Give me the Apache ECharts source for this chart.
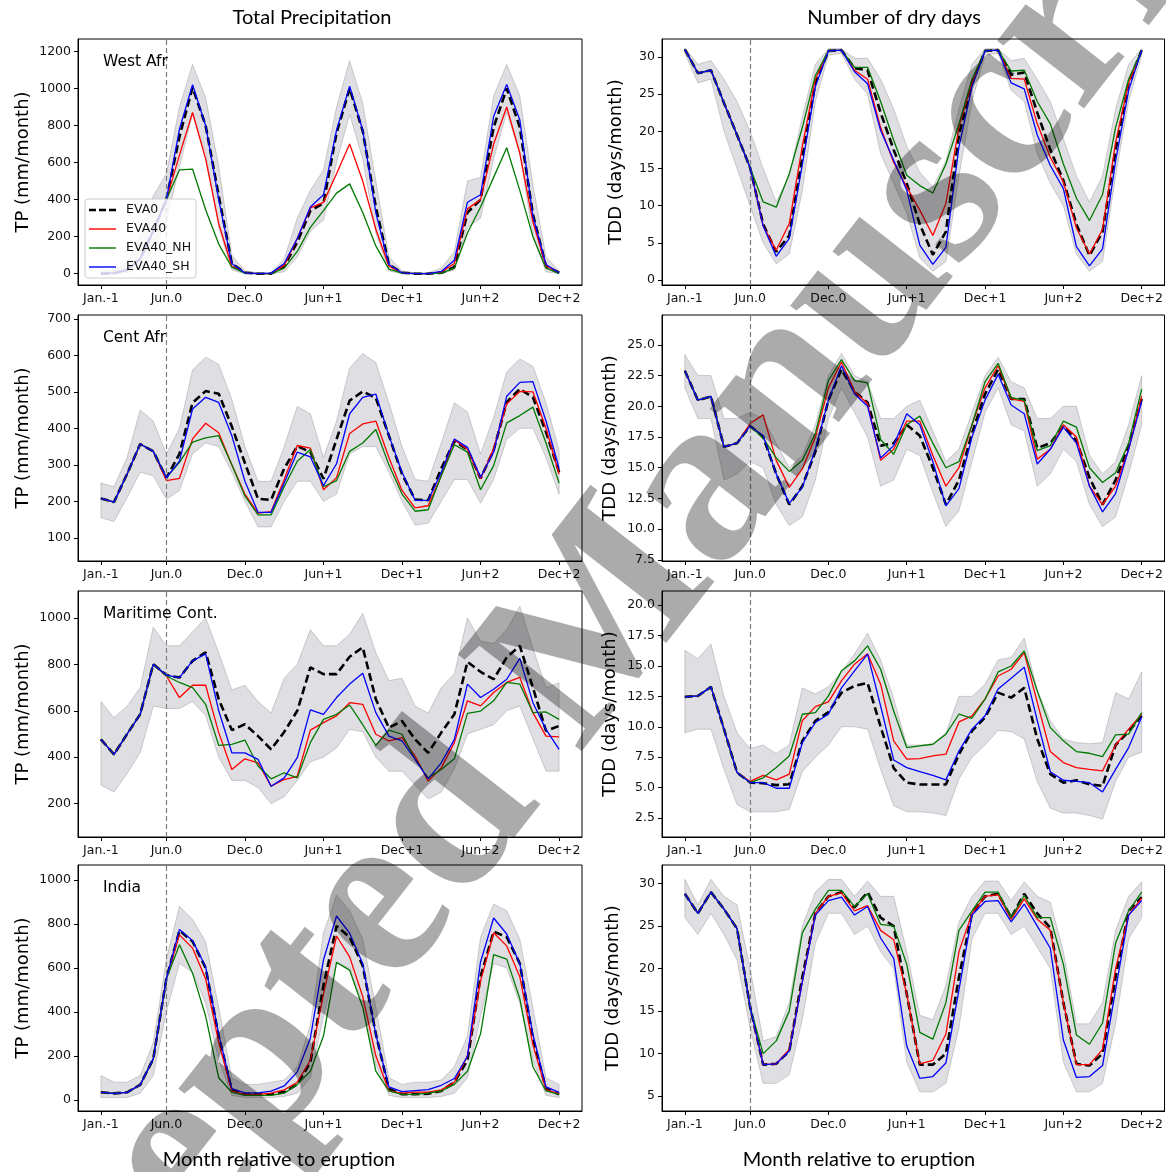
<!DOCTYPE html>
<html><head><meta charset="utf-8">
<script src="https://cdn.jsdelivr.net/npm/echarts@6/dist/echarts.min.js"></script>
<style>html,body{margin:0;padding:0;background:#fff}#c{width:1166px;height:1172px}</style>
</head><body><div id="c"></div><script>
// ---- categories / ticks ----
const months = [0,1,2,3,4,5,6,7,8,9,10,11,12,13,14,15,16,17,18,19,20,21,22,23,24,25,26,27,28,29,30,31,32,33,34,35];
const tickMonths = [0,5,11,17,23,29,35];
const tickLabels = ['Jan.-1','Jun.0','Dec.0','Jun+1','Dec+1','Jun+2','Dec+2'];
const eruptionMonth = 5;
const seriesNames = ['EVA0','EVA40','EVA40_NH','EVA40_SH'];

// ---- West Africa, total precipitation (mm/month) ----
const waTP_EVA0 = [0,3,20,80,230,400, 740,1005,800,420,55,5, 0,0,40,170,340,380, 760,1000,770,360,50,5, 0,0,5,35,330,400, 790,1000,790,320,40,5];
const waTP_EVA40 = [0,3,20,80,230,400, 640,870,620,270,40,5, 0,0,45,190,355,385, 540,700,500,240,40,5, 0,0,8,55,350,400, 700,900,650,280,40,5];
const waTP_NH = [0,3,20,80,230,400, 560,565,345,160,35,3, 0,0,30,120,250,340, 435,485,330,150,25,3, 0,0,3,30,220,360, 520,680,450,200,30,2];
const waTP_SH = [0,3,20,80,230,400, 780,1020,800,400,55,5, 0,3,55,190,360,426, 775,1012,775,330,50,5, 0,0,12,73,386,426, 850,1022,830,310,50,5];
const waTP_hi = [10,20,60,200,420,540, 900,1130,950,580,100,15, 5,5,80,300,450,560, 900,1150,920,500,90,15, 5,5,30,120,500,520, 960,1130,960,480,90,15];
const waTP_lo = [0,0,5,30,130,280, 580,860,650,250,20,0, 0,0,10,90,230,290, 600,860,620,220,15,0, 0,0,0,20,250,300, 620,870,650,200,10,0];

// ---- West Africa, dry days ----
const waTDD_EVA0 = [31,27.8,28.2,23.8,19.5,15.1, 7.5,3.8,6.0,16.5,26.5,30.8, 30.9,28.5,28.2,22.5,17.5,13.0, 7.5,3.4,6.5,19.5,26.5,30.8, 30.9,27.6,27.9,22.5,17.5,13.4, 7.5,3.3,6.5,17.5,26.5,30.9];
const waTDD_EVA40 = [31,27.8,28.2,23.8,19.5,15.1, 7.3,4.0,7.6,18.0,27.0,30.8, 30.9,28.2,27.0,20.5,15.8,12.5, 9.4,6.0,10.3,20.6,26.5,30.8, 30.9,27.1,27.0,21.0,16.5,13.2, 7.0,3.5,6.8,18.5,26.5,30.9];
const waTDD_NH = [31,27.8,28.2,23.8,19.5,15.1, 10.5,9.8,14.3,20.5,27.5,30.8, 30.9,28.6,28.6,24.0,18.8,14.1, 12.7,11.7,15.6,21.0,27.0,30.8, 30.9,28.1,28.2,24.0,21.0,15.6, 11.0,8.0,11.5,20.5,27.0,30.9];
const waTDD_SH = [31,27.8,28.2,23.8,19.5,15.1, 7.3,3.2,5.6,15.5,26.0,30.8, 30.9,28.0,26.4,20.1,16.1,12.1, 4.7,2.1,4.4,17.9,26.0,30.8, 30.9,26.5,25.7,19.5,15.4,12.3, 4.5,1.9,4.2,16.0,25.5,30.9];
const waTDD_hi = [31.2,29,29.5,27,24,20, 15,10.5,14,22,29,31.1, 31.1,29.8,29.8,27,23,18, 14.5,12.5,16,23,29,31.1, 31.1,29.5,29.8,27,24,19, 14,10.5,14,23,29,31.1];
const waTDD_lo = [30.5,26.5,27,20,15,10, 5,2.2,3.5,12,24,30.2, 30.5,27,25,17,13,9, 3,1.2,2.5,14,24,30.2, 30.5,25.5,24,17,13,10, 3.5,1.2,2.5,14,24,30.2];

// ---- Central Africa, total precipitation ----
const caTP_EVA0 = [208,198,275,357,337,264, 330,470,502,495,405,305, 207,204,290,351,335,262, 370,476,501,483,380,275, 205,203,290,365,342,263, 340,472,508,485,390,280];
const caTP_EVA40 = [208,198,275,357,337,257, 263,371,414,388,300,220, 168,172,260,353,346,232, 265,386,412,420,320,230, 182,188,270,369,342,262, 345,467,501,500,400,275];
const caTP_NH = [208,198,275,357,337,265, 307,362,374,380,300,215, 163,163,240,310,342,240, 257,337,360,397,300,220, 173,177,270,355,335,232, 298,415,435,458,360,250];
const caTP_SH = [208,198,275,357,337,265, 310,453,485,471,380,255, 170,170,250,335,322,243, 303,440,485,494,380,280, 203,203,280,371,348,266, 335,488,526,528,420,290];
const caTP_hi = [250,240,320,450,420,330, 400,560,595,575,480,350, 255,255,350,460,440,320, 420,565,605,580,470,350, 260,255,360,470,445,330, 430,555,590,570,470,340];
const caTP_lo = [155,145,210,280,270,205, 230,330,360,350,280,200, 130,130,200,255,255,200, 220,330,350,350,280,200, 135,140,200,260,260,195, 260,370,400,400,320,220];

// ---- Central Africa, dry days ----
const caTDD_EVA0 = [22.9,20.5,20.8,16.7,17.0,18.4, 17.5,14.5,12.0,13.5,16.3,20.5, 23.0,21.2,20.3,16.8,17.0,18.5, 17.6,15.0,12.0,14.0,17.8,21.0, 23.0,20.6,20.6,16.6,17.0,18.4, 17.2,14.2,12.0,14.0,16.8,20.6];
const caTDD_EVA40 = [22.9,20.5,20.8,16.7,17.0,18.6, 19.3,15.6,13.4,14.9,17.5,21.5, 23.6,21.2,20.2,15.6,16.5,18.8, 18.8,16.0,13.5,15.0,18.5,21.5, 23.3,20.6,20.4,15.7,16.5,18.5, 17.5,13.5,12.0,13.5,16.5,20.8];
const caTDD_NH = [22.9,20.5,20.8,16.7,17.0,18.4, 17.4,15.8,14.7,15.6,17.8,22.1, 23.8,22.1,21.9,17.3,16.1,18.5, 19.2,17.0,15.0,15.5,18.5,22.0, 23.5,20.7,20.5,16.4,16.8,18.8, 18.3,15.0,13.8,14.6,17.0,21.4];
const caTDD_SH = [22.9,20.5,20.8,16.7,17.0,18.4, 17.6,14.5,12.1,13.4,16.5,20.5, 23.3,21.0,20.0,15.8,16.8,19.4, 18.5,15.5,11.9,13.3,17.5,20.5, 22.6,20.1,19.4,15.3,16.5,18.3, 17.0,13.5,11.4,12.9,16.5,20.4];
const caTDD_hi = [24.2,22.5,22.5,19,19,19.5, 19,17,15,16,18.5,22.5, 24.3,22.5,22,19,19,20, 20.5,18,15.5,16.5,19.5,22.5, 24,22,21.5,19,19,20, 20,16,14.5,15.5,18.5,22.5];
const caTDD_lo = [21.5,19,19,14,14.5,15.5, 15,12,10.3,11,14,19, 21.5,19.5,17.5,13.5,14,16.5, 16,13,10.2,11.5,15.5,19.5, 21.5,18.5,18,13.5,14.5,16.5, 15.5,12,10.2,11,14.5,18.5];

// ---- Maritime Continent, total precipitation ----
const mcTP_EVA0 = [477,412,500,585,801,754, 743,815,852,650,517,542, 491,434,509,600,787,758, 758,833,873,650,527,556, 477,419,506,585,811,768, 736,830,880,700,513,535];
const mcTP_EVA40 = [477,412,500,585,801,750, 657,710,710,506,347,393, 376,275,304,318,517,549, 578,635,628,499,470,484, 405,297,354,463,643,621, 679,722,744,592,491,488];
const mcTP_NH = [477,412,500,585,801,750, 722,700,628,451,455,474, 362,307,333,311,463,563, 585,625,540,451,517,499, 391,311,347,393,589,599, 643,722,715,592,595,563];
const mcTP_SH = [477,412,500,585,801,754, 743,815,845,600,419,419, 391,275,311,398,604,585, 657,715,762,592,491,470, 391,307,376,477,715,657, 693,736,826,635,520,434];
const mcTP_hi = [640,570,620,700,960,880, 880,940,1000,850,690,710, 640,590,740,800,950,880, 880,930,1020,850,730,740, 620,590,700,760,1000,900, 890,950,1050,870,700,720];
const mcTP_lo = [280,250,330,420,620,610, 610,640,580,400,300,300, 270,200,230,300,380,400, 440,520,510,400,340,340, 280,220,250,350,500,520, 540,600,620,480,340,340];

// ---- Maritime Continent, dry days ----
const mcTDD_EVA0 = [12.46,12.54,13.28,9.8,6.23,5.41, 5.35,5.2,5.27,8.84,10.48,11.2, 12.8,13.36,13.6,10.0,6.6,5.4, 5.25,5.25,5.25,7.74,9.66,10.76, 12.81,12.4,13.2,9.0,6.1,5.4, 5.6,5.27,5.13,8.5,9.6,10.9];
const mcTDD_EVA40 = [12.46,12.54,13.28,9.8,6.23,5.5, 6.0,5.63,6.1,10.5,11.66,12.05, 13.77,15.15,16.0,13.5,8.84,7.33, 7.38,7.6,7.74,10.4,10.9,12.3, 14.18,14.73,16.1,12.0,7.96,7.05, 6.64,6.5,6.37,8.5,9.8,11.03];
const mcTDD_NH = [12.46,12.54,13.28,9.8,6.23,5.41, 5.8,6.64,7.6,11.03,11.17,12.54, 14.6,15.42,16.65,14.73,11.3,8.29, 8.43,8.56,9.39,11.03,10.7,12.27, 14.51,15.0,16.24,12.95,9.93,8.84, 7.96,7.82,7.55,9.33,9.39,11.17];
const mcTDD_SH = [12.46,12.54,13.28,9.8,6.23,5.41, 5.4,4.94,4.94,8.7,10.35,11.03, 13.2,14.6,15.97,11.7,7.27,6.64, 6.31,6.0,5.63,8.0,9.8,10.9, 13.1,14.0,14.9,10.5,6.3,5.6, 5.5,5.4,4.64,6.5,8.29,10.8];
const mcTDD_hi = [16.3,15.6,16.8,12.5,9.5,8.2, 8.5,7.8,8.5,13.2,12.7,13.3, 14.5,16,17.7,15.5,12.3,8.5, 8.5,8.6,9.5,12.5,12.5,13.5, 15.5,15.7,17.3,13,10.5,9, 8.7,8.6,8.7,12.8,12.3,14.5];
const mcTDD_lo = [9.5,9.8,9.8,6.5,3.6,3.0, 3.0,3.0,3.2,6.3,7.5,8.5, 10.0,10.0,9.8,6.5,3.5,3.0, 3.0,2.9,2.7,5.7,7.5,8.5, 9.7,9.6,9.0,5.5,3.3,2.9, 2.9,2.7,2.4,5.5,7.5,7.9];

// ---- India, total precipitation ----
const inTP_EVA0 = [34,29,34,68,186,551, 770,720,600,290,45,25, 25,25,35,70,170,520, 790,740,610,300,50,25, 25,28,40,80,180,560, 765,740,620,280,50,25];
const inTP_EVA40 = [34,29,34,68,186,551, 750,690,550,260,40,25, 25,30,45,80,180,480, 745,650,470,200,40,30, 35,35,45,80,200,540, 760,700,560,250,45,28];
const inTP_NH = [34,29,34,68,186,551, 705,576,381,100,34,20, 20,20,30,70,130,290, 625,590,420,130,40,25, 25,30,40,70,130,300, 660,640,460,150,40,25];
const inTP_SH = [34,29,34,68,186,551, 775,724,605,297,51,31, 31,39,63,127,280,636, 836,758,619,297,59,37, 42,46,66,97,198,627, 827,754,619,297,59,34];
const inTP_hi = [110,80,80,110,260,640, 880,820,720,420,100,70, 70,80,90,150,340,760, 930,860,730,420,100,70, 80,80,90,150,290,740, 890,860,730,420,100,70];
const inTP_lo = [10,10,10,30,110,400, 620,580,440,180,20,10, 10,10,15,30,100,380, 620,600,440,160,20,10, 10,10,15,30,100,380, 620,600,440,180,20,10];

// ---- India, dry days ----
const inTDD_EVA0 = [28.8,26.5,29.0,27.0,24.7,15.5, 8.7,8.8,10.3,19.0,26.5,28.5, 29.0,27.2,29.0,26.0,25.0,17.0, 8.7,8.7,10.0,19.0,26.5,28.5, 28.8,26.0,28.8,26.5,24.8,16.0, 8.8,8.6,10.0,19.0,26.8,28.4];
const inTDD_EVA40 = [28.8,26.5,29.0,27.0,24.7,15.5, 8.7,8.8,10.5,18.5,26.5,28.5, 28.9,26.8,27.4,24.5,23.4,17.0, 8.8,9.2,12.3,22.0,26.5,28.5, 28.7,25.8,28.2,25.8,24.5,16.0, 8.7,8.7,10.5,20.0,26.3,28.3];
const inTDD_NH = [28.8,26.5,29.0,27.0,24.7,15.5, 10.0,11.5,15.0,24.2,27.0,29.2, 29.2,27.3,28.8,25.2,25.0,20.5, 12.5,11.7,16.0,24.5,26.8,29.0, 29.0,26.0,28.6,26.0,26.0,20.5, 12.2,11.1,13.6,23.0,26.8,29.0];
const inTDD_SH = [28.8,26.5,29.0,27.0,24.7,15.5, 8.7,8.8,10.3,18.4,26.3,28.0, 28.4,26.3,27.3,23.6,21.2,10.9, 7.1,7.3,8.9,17.5,26.3,27.9, 28.0,25.5,27.6,25.0,22.4,11.6, 7.2,7.3,8.6,17.5,26.3,28.0];
const inTDD_hi = [30.5,27.5,30.5,28.5,27.5,20, 11.5,12,16,25,29,30.5, 30.5,28.5,30.3,28.5,28.5,22, 14.5,14,18,25.5,28.5,30.3, 30.3,28,30.2,28.5,27.8,22, 13.5,13.5,16,24.5,28.5,30.2];
const inTDD_lo = [26,24,26.5,24,21,13, 6.5,6.5,7.5,14,23,26.5, 26.5,24,25,22,20,9, 5.5,5.5,6.5,13,23.5,26.5, 26.5,24,25,22.5,20,9, 5.5,5.5,6.5,13.5,23.5,26];

// ---- y tick values ----
const waTPTicks = [0,200,400,600,800,1000,1200];
const waTDDTicks = [0,5,10,15,20,25,30];
const caTPTicks = [100,200,300,400,500,600,700];
const caTDDTicks = [7.5,10,12.5,15,17.5,20,22.5,25];
const mcTPTicks = [200,400,600,800,1000];
const mcTDDTicks = [2.5,5,7.5,10,12.5,15,17.5,20];
const inTPTicks = [0,200,400,600,800,1000];
const inTDDTicks = [5,10,15,20,25,30];

const regionLabels = ['West Afr','Cent Afr','Maritime Cont.','India'];

// ---- layout ----
const colLeft = [78, 662], colWidth = [504, 503];
const rowTop = [39, 315, 591, 865], rowH = 246;
const panels = [
  {r:0,c:0,lines:[waTP_EVA0,waTP_EVA40,waTP_NH,waTP_SH],hi:waTP_hi,lo:waTP_lo,min:-61,max:1267,ticks:waTPTicks,dec:0,name:'TP (mm/month)',gap:46},
  {r:0,c:1,lines:[waTDD_EVA0,waTDD_EVA40,waTDD_NH,waTDD_SH],hi:waTDD_hi,lo:waTDD_lo,min:-0.66,max:32.4,ticks:waTDDTicks,dec:0,name:'TDD (days/month)',gap:37},
  {r:1,c:0,lines:[caTP_EVA0,caTP_EVA40,caTP_NH,caTP_SH],hi:caTP_hi,lo:caTP_lo,min:36.7,max:710.4,ticks:caTPTicks,dec:0,name:'TP (mm/month)',gap:46},
  {r:1,c:1,lines:[caTDD_EVA0,caTDD_EVA40,caTDD_NH,caTDD_SH],hi:caTDD_hi,lo:caTDD_lo,min:7.41,max:27.43,ticks:caTDDTicks,dec:1,name:'TDD (days/month)',gap:43},
  {r:2,c:0,lines:[mcTP_EVA0,mcTP_EVA40,mcTP_NH,mcTP_SH],hi:mcTP_hi,lo:mcTP_lo,min:56.4,max:1116,ticks:mcTPTicks,dec:0,name:'TP (mm/month)',gap:46},
  {r:2,c:1,lines:[mcTDD_EVA0,mcTDD_EVA40,mcTDD_NH,mcTDD_SH],hi:mcTDD_hi,lo:mcTDD_lo,min:0.93,max:21.17,ticks:mcTDDTicks,dec:1,name:'TDD (days/month)',gap:43},
  {r:3,c:0,lines:[inTP_EVA0,inTP_EVA40,inTP_NH,inTP_SH],hi:inTP_hi,lo:inTP_lo,min:-51,max:1068,ticks:inTPTicks,dec:0,name:'TP (mm/month)',gap:46},
  {r:3,c:1,lines:[inTDD_EVA0,inTDD_EVA40,inTDD_NH,inTDD_SH],hi:inTDD_hi,lo:inTDD_lo,min:3.25,max:32.19,ticks:inTDDTicks,dec:0,name:'TDD (days/month)',gap:40}
];

const lineColors = ['#000000','#ff0000','#007a00','#0000ff'];
const FONT = 'DejaVu Sans';
const grid=[], xAxis=[], yAxis=[], series=[];
panels.forEach((p,i)=>{
  grid.push({left:colLeft[p.c], top:rowTop[p.r], width:colWidth[p.c], height:rowH, show:true, borderColor:'#000', borderWidth:1, backgroundColor:'rgba(0,0,0,0)'});
  xAxis.push({type:'value', gridIndex:i, min:-1.75, max:36.75,
    axisLine:{show:true, onZero:false, lineStyle:{color:'#000', width:1}},
    axisTick:{show:true, length:4, lineStyle:{color:'#000'}, customValues:tickMonths},
    axisLabel:{customValues:tickMonths, fontFamily:FONT, fontSize:12.5, color:'#111', margin:7,
      formatter:(v)=>{const k=tickMonths.indexOf(Math.round(v)); return k>=0?tickLabels[k]:'';}},
    splitLine:{show:false}});
  yAxis.push({type:'value', gridIndex:i, min:p.min, max:p.max,
    axisLine:{show:true, onZero:false, lineStyle:{color:'#000', width:1}},
    axisTick:{show:true, length:4, lineStyle:{color:'#000'}, customValues:p.ticks},
    axisLabel:{customValues:p.ticks, fontFamily:FONT, fontSize:12.5, color:'#111', margin:7,
      formatter:(v)=>Number(v).toFixed(p.dec)},
    splitLine:{show:false},
    name:p.name, nameLocation:'middle', nameGap:p.gap, nameRotate:90,
    nameTextStyle:{fontFamily:FONT, fontSize:18, color:'#000'}});
  const hi=p.hi, lo=p.lo;
  series.push({type:'custom', xAxisIndex:i, yAxisIndex:i, silent:true, z:1,
    data: months.map((m,k)=>[m, lo[k], hi[k]]), encode:{x:0, y:[1,2]},
    renderItem:(params, api)=>{
      if (params.dataIndex!==0) return null;
      const pts=[];
      for (let k=0;k<months.length;k++) pts.push(api.coord([months[k], hi[k]]));
      for (let k=months.length-1;k>=0;k--) pts.push(api.coord([months[k], lo[k]]));
      return {type:'polygon', shape:{points:pts}, style:{fill:'rgba(110,104,128,0.22)', stroke:'rgba(100,100,100,0.35)', lineWidth:0.8}};
    }});
  p.lines.forEach((arr,j)=>{
    const s={type:'line', name:seriesNames[j], xAxisIndex:i, yAxisIndex:i, z:2+j, silent:true,
      symbol:'none', showSymbol:false, data: months.map((m,k)=>[m, arr[k]]),
      lineStyle: j===0 ? {color:'#000', width:2.6, type:[8,4]} : {color:lineColors[j], width:1.3}};
    if (j===0) s.markLine={silent:true, symbol:['none','none'], label:{show:false},
      lineStyle:{color:'#7f7f7f', type:[5,3], width:1.2}, data:[{xAxis:eruptionMonth}]};
    series.push(s);
  });
});

const graphic=[];
graphic.push({type:'text', x:312, y:18, style:{text:'Total Precipitation', fontFamily:'Lato', fontSize:20, fill:'#000', align:'center', verticalAlign:'middle'}});
graphic.push({type:'text', x:894, y:18, style:{text:'Number of dry days', fontFamily:'Lato', fontSize:20, fill:'#000', align:'center', verticalAlign:'middle'}});
graphic.push({type:'text', x:279, y:1160, style:{text:'Month relative to eruption', fontFamily:'Lato', fontSize:20, fill:'#000', align:'center', verticalAlign:'middle'}});
graphic.push({type:'text', x:859, y:1160, style:{text:'Month relative to eruption', fontFamily:'Lato', fontSize:20, fill:'#000', align:'center', verticalAlign:'middle'}});
regionLabels.forEach((t,r)=>graphic.push({type:'text', x:103, y:rowTop[r]+23, z:50, style:{text:t, fontFamily:FONT, fontSize:15.5, fill:'#000', align:'left', verticalAlign:'middle'}}));
const lgX=85, lgY=199;
graphic.push({type:'rect', x:lgX, y:lgY, z:60, shape:{width:111, height:79, r:3}, style:{fill:'rgba(255,255,255,0.8)', stroke:'#cccccc', lineWidth:1}});
seriesNames.forEach((n,j)=>{
  const yy = lgY + 11 + j*19;
  graphic.push({type:'line', z:61, shape:{x1:lgX+4, y1:yy, x2:lgX+31, y2:yy},
    style: j===0 ? {stroke:'#000', lineWidth:2.6, lineDash:[7,3]} : {stroke:lineColors[j], lineWidth:1.4}});
  graphic.push({type:'text', x:lgX+41, y:yy, z:61, style:{text:n, fontFamily:FONT, fontSize:12.5, fill:'#111', align:'left', verticalAlign:'middle'}});
});
// watermark
graphic.push({type:'text', x:590, y:640, rotation:52*Math.PI/180, z:1000, silent:true,
  style:{text:'Accepted Manuscript', fontFamily:'Liberation Serif', fontWeight:'bold', fontSize:240, fill:'rgba(0,0,0,0.33)', align:'center', verticalAlign:'middle'}});

const chart = echarts.init(document.getElementById('c'), null, {renderer:'canvas'});
chart.setOption({animation:false, backgroundColor:'#fff', grid, xAxis, yAxis, series, graphic});
</script></body></html>
